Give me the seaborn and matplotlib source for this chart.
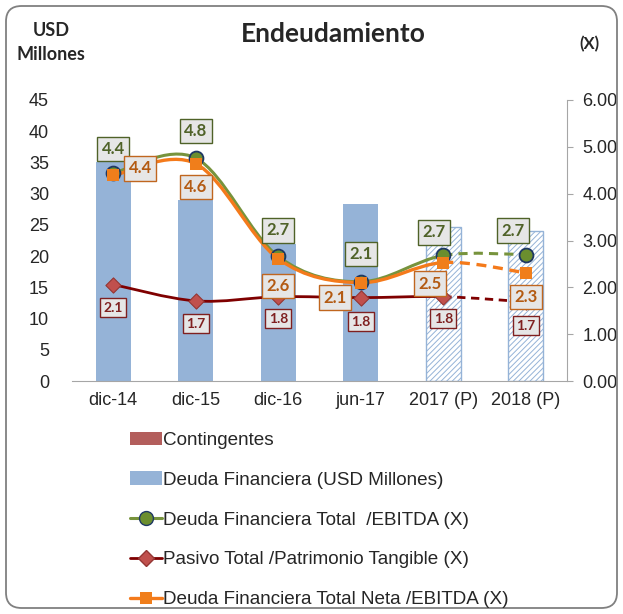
import matplotlib
matplotlib.use("Agg")
import matplotlib.pyplot as plt
import seaborn as sns
import numpy as np
from matplotlib.path import Path
from matplotlib.patches import PathPatch, FancyBboxPatch, Patch
from matplotlib.lines import Line2D

# data
periodos = ["dic-14", "dic-15", "dic-16", "jun-17", "2017 (P)", "2018 (P)"]
deuda_financiera = [35.0, 29.0, 22.0, 28.3, 24.6, 24.0]
contingentes = [0, 0, 0, 0, 0, 0]
proyectado = [False, False, False, False, True, True]
deuda_ebitda = [4.44, 4.76, 2.66, 2.12, 2.68, 2.70]
pasivo_patrimonio = [2.06, 1.71, 1.80, 1.78, 1.80, 1.69]
deuda_neta_ebitda = [4.39, 4.64, 2.61, 2.10, 2.53, 2.31]

# label offsets (px, dx / dy) for each series
off_verde = [(0, 24), (0, 27), (0, 26), (0, 28), (-9, 23), (-13, 24)]
off_naranja = [(27, 7), (0, -23), (0, -27), (-26, -15), (-13, -21), (0, -24)]
off_rojo = [(0, -23), (0, -23), (0, -22), (0, -24), (0, -22), (0, -24)]

AZUL = "#95B3D7"
VERDE = "#77933C"
ROJO = "#7F0000"
NARANJA = "#F47A1B"

sns.set_style("white")
plt.rcParams["font.family"] = ["Liberation Sans", "DejaVu Sans"]
plt.rcParams["hatch.linewidth"] = 0.7

fig = plt.figure(figsize=(6.23, 6.14), dpi=100)
ax = fig.add_axes([72 / 623, 1 - 381 / 614, (567 - 72) / 623, (381 - 100) / 614])

sns.barplot(x=periodos, y=deuda_financiera, color=AZUL, saturation=1,
            width=0.42, linewidth=0, ax=ax, zorder=1)
for bar, proy in zip(ax.containers[0], proyectado):
    if proy:
        bar.set_facecolor("white")
        bar.set_edgecolor(AZUL)
        bar.set_hatch("//////")
        bar.set_linewidth(1.0)
sns.barplot(x=periodos, y=contingentes, color="#B35E5C", saturation=1,
            width=0.42, linewidth=0, ax=ax)

ax.set_ylim(0, 45)
ax.set_yticks(range(0, 46, 5))
ax.set_xlim(-0.5, 5.5)
ax.set_xlabel("")
ax.set_ylabel("")
for s in ["top", "left", "right"]:
    ax.spines[s].set_visible(False)
ax.spines["bottom"].set_color("#A6A6A6")
ax.tick_params(axis="y", length=0, pad=16.5, labelsize=13)
ax.tick_params(axis="x", length=0, pad=8, labelsize=13)

ax2 = ax.twinx()
ax2.set_ylim(0, 6)
ax2.set_yticks(range(0, 7))
ax2.set_yticklabels([f"{v:.2f}" for v in range(0, 7)])
for s in ["top", "left", "bottom"]:
    ax2.spines[s].set_visible(False)
ax2.spines["right"].set_color("#A6A6A6")
ax2.tick_params(axis="y", direction="out", length=4, width=0.8,
                color="#A6A6A6", pad=7, labelsize=13)
ax2.grid(False)
ax.grid(False)


def curvas(xs, ys):
    # Excel-like smoothed line: bezier segments through the points
    pts = np.column_stack([xs, ys]).astype(float)
    n = len(pts)
    segs = []
    for i in range(n - 1):
        p0, p1, p2, p3 = pts[max(i - 1, 0)], pts[i], pts[i + 1], pts[min(i + 2, n - 1)]
        segs.append([p1, p1 + (p2 - p0) / 6, p2 - (p3 - p1) / 6, p2])
    return segs


def trazo(segs, color, lw, ls, z):
    verts = [segs[0][0]]
    codes = [Path.MOVETO]
    for s in segs:
        verts += s[1:]
        codes += [Path.CURVE4] * 3
    ax2.add_patch(PathPatch(Path(verts, codes), fill=False, edgecolor=color,
                            linewidth=lw, linestyle=ls, zorder=z, capstyle="butt"))


xs = np.arange(len(periodos))
series = [
    (deuda_ebitda, VERDE, 2.2, 3),
    (pasivo_patrimonio, ROJO, 2.0, 4),
    (deuda_neta_ebitda, NARANJA, 2.4, 5),
]
for vals, col, lw, z in series:
    segs = curvas(xs, vals)
    trazo(segs[:4], col, lw, "-", z)
    trazo(segs[4:], col, lw, (0, (3, 2)), z)

sns.scatterplot(x=xs, y=deuda_ebitda, ax=ax2, marker="o", s=100,
                color="#6B8E2E", edgecolor="#1F3864", linewidth=1.3, zorder=6)
sns.scatterplot(x=xs, y=pasivo_patrimonio, ax=ax2, marker="D", s=60,
                color="#C0504D", edgecolor="#943634", linewidth=0.8, zorder=6)
sns.scatterplot(x=xs, y=deuda_neta_ebitda, ax=ax2, marker="s", s=80,
                color="#F07E1B", linewidth=0, zorder=7)


def etiquetas(vals, offs, txtcol, edgecol, size, z):
    for x, v, (dx, dy) in zip(xs, vals, offs):
        ax2.annotate(f"{v:.1f}", (x, v), xytext=(dx * 0.72, dy * 0.72),
                     textcoords="offset points", ha="center", va="center",
                     fontsize=size, fontweight="bold", color=txtcol,
                     family=["Lato", "DejaVu Sans"], zorder=z,
                     bbox=dict(boxstyle="square,pad=0.25", fc="#E6E6E6",
                               ec=edgecol, lw=1.0))


etiquetas(deuda_ebitda, off_verde, "#4F6228", "#4F6228", 12, 8)
etiquetas(deuda_neta_ebitda, off_naranja, "#B35A12", "#C0661F", 12, 9)
etiquetas(pasivo_patrimonio, off_rojo, "#7F2020", "#7F2020", 10, 8)

# titles
fig.text(333 / 623, 1 - 34 / 614, "Endeudamiento", ha="center", va="center",
         fontsize=19, fontweight="bold", family=["Lato", "DejaVu Sans"])
fig.text(51 / 623, 1 - 31 / 614, "USD", ha="center", va="center",
         fontsize=13, fontweight="bold", family=["Lato", "DejaVu Sans"])
fig.text(51 / 623, 1 - 55 / 614, "Millones", ha="center", va="center",
         fontsize=13, fontweight="bold", family=["Lato", "DejaVu Sans"])
fig.text(589 / 623, 1 - 44 / 614, "(X)", ha="center", va="center",
         fontsize=12, fontweight="bold", family=["Lato", "DejaVu Sans"])

handles = [
    Patch(facecolor="#B35E5C", edgecolor="none"),
    Patch(facecolor=AZUL, edgecolor="none"),
    Line2D([], [], color=VERDE, lw=2.2, marker="o", markersize=10,
           markerfacecolor="#6B8E2E", markeredgecolor="#1F3864"),
    Line2D([], [], color=ROJO, lw=2.0, marker="D", markersize=8,
           markerfacecolor="#C0504D", markeredgecolor="#943634"),
    Line2D([], [], color=NARANJA, lw=2.4, marker="s", markersize=9,
           markerfacecolor="#F07E1B", markeredgewidth=0),
]
labels = [
    "Contingentes",
    "Deuda Financiera (USD Millones)",
    "Deuda Financiera Total  /EBITDA (X)",
    "Pasivo Total /Patrimonio Tangible (X)",
    "Deuda Financiera Total Neta /EBITDA (X)",
]
fig.legend(handles, labels, loc="upper left",
           bbox_to_anchor=(122 / 623, 1 - 424 / 614), frameon=False,
           fontsize=13.6, labelspacing=1.2, handlelength=1.7,
           handletextpad=0.08, borderaxespad=0)

fig.patches.append(FancyBboxPatch((6 / 623, 6 / 614), 611 / 623, 602 / 614,
                                  boxstyle="round,pad=0,rounding_size=0.025",
                                  transform=fig.transFigure, fill=False,
                                  edgecolor="#808080", linewidth=1.3, zorder=0))

fig.savefig("out.png", dpi=100)
